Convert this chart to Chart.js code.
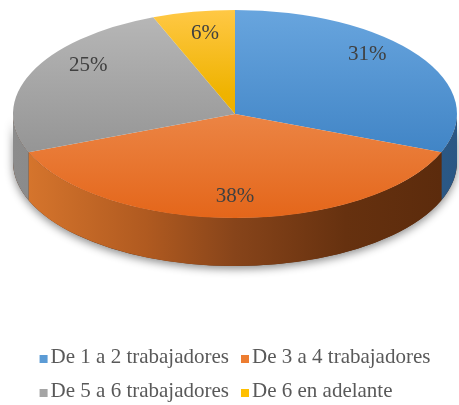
<!DOCTYPE html>
<html>
<head>
<meta charset="utf-8">
<script src="https://cdn.jsdelivr.net/npm/chart.js@4.4.1/dist/chart.umd.min.js"></script>
<style>
  html, body { margin: 0; padding: 0; background: #fff; }
</style>
</head>
<body>
<canvas id="myChart" width="459" height="405"></canvas>
<script>
const categorias = ['De 1 a 2 trabajadores', 'De 3 a 4 trabajadores', 'De 5 a 6 trabajadores', 'De 6 en adelante'];
const porcentajes = [31, 38, 25, 6];
const colores = ['#5b9bd5', '#ed7d31', '#a5a5a5', '#ffc000'];

// cara de arriba: degradado vertical (claro arriba, oscuro abajo)
const tonosCara = [
  [[0, '#68a5de'], [1, '#2f76bb']],
  [[0, '#f3a36f'], [1, '#e4661a']],
  [[0, '#b8b8b8'], [1, '#858585']],
  [[0, '#ffc845'], [0.4, '#efb300'], [1, '#e0a500']]
];
// pared lateral: degradado horizontal de izquierda a derecha
const tonosLado = [
  [[0, '#3f78b0'], [1, '#2a5784']],
  [[0, '#da782e'], [0.3, '#b05a20'], [0.5, '#87441a'], [0.75, '#66310f'], [1, '#5a2a0c']],
  [[0, '#8c8c8c'], [1, '#6e6e6e']],
  [[0, '#c99700'], [1, '#9c7500']]
];
const GROSOR = 48;

function degradadoCara(context) {
  const i = context.dataIndex;
  const area = context.chart.chartArea;
  if (!area) return colores[i];
  const g = context.chart.ctx.createLinearGradient(0, area.top, 0, area.bottom);
  tonosCara[i].forEach(([p, c]) => g.addColorStop(p, c));
  return g;
}

// el pastel se aplasta en elipse y se le pone canto
const pastel3d = {
  id: 'pastel3d',
  beforeDatasetsDraw(chart) {
    const ctx = chart.ctx;
    const arcos = chart.getDatasetMeta(0).data;
    if (!arcos.length) return;
    const {x, y, outerRadius: r} = arcos[0];
    const sx = (chart.chartArea.width / 2) / r;
    ctx.save();
    ctx.translate(x, y);
    ctx.scale(sx, 1);
    ctx.translate(-x, -y);

    // sombra del canto
    ctx.save();
    ctx.shadowColor = 'rgba(0,0,0,0.45)';
    ctx.shadowBlur = 8;
    ctx.shadowOffsetY = 3;
    ctx.beginPath();
    ctx.arc(x, y, r, 0, Math.PI);
    ctx.arc(x, y + GROSOR, r, Math.PI, 0, true);
    ctx.closePath();
    ctx.fillStyle = '#5a2a0c';
    ctx.fill();
    ctx.restore();

    arcos.forEach((arco, i) => {
      const a = Math.max(arco.startAngle, 0);
      const b = Math.min(arco.endAngle, Math.PI);
      if (a >= b) return;
      const g = ctx.createLinearGradient(x - r, 0, x + r, 0);
      tonosLado[i].forEach(([p, c]) => g.addColorStop(p, c));
      ctx.fillStyle = g;
      ctx.beginPath();
      ctx.arc(x, y, r, a, b);
      ctx.arc(x, y + GROSOR, r, b, a, true);
      ctx.closePath();
      ctx.fill();
    });
    // las caras las pinta Chart.js con esta misma transformación
  },
  afterDatasetsDraw(chart) {
    const ctx = chart.ctx;
    const arcos = chart.getDatasetMeta(0).data;
    if (!arcos.length) return;
    ctx.restore();

    const {x, y, outerRadius: r} = arcos[0];
    const sx = (chart.chartArea.width / 2) / r;
    ctx.save();
    ctx.font = '21px "Liberation Serif", "Times New Roman", serif';
    ctx.fillStyle = '#404040';
    ctx.textAlign = 'center';
    ctx.textBaseline = 'middle';
    arcos.forEach((arco, i) => {
      const medio = (arco.startAngle + arco.endAngle) / 2;
      const s = Math.sin(medio);
      const c = Math.cos(medio);
      const px = x + sx * r * 0.72 * c;
      // las del fondo suben un poco, la del frente baja
      const py = y + r * 0.72 * s + (s < 0 ? -16 * Math.abs(c) - 4 : 8);
      ctx.fillText(porcentajes[i] + '%', px, py);
    });
    ctx.restore();
  }
};

// leyenda en dos columnas bajo el pastel
const leyenda = {
  id: 'leyenda',
  afterDraw(chart) {
    const ctx = chart.ctx;
    ctx.save();
    ctx.font = '21px "Liberation Serif", "Times New Roman", serif';
    const caja = 8, hueco = 3, sep = 12, paso = 34;
    const anchoTexto = Math.max(...categorias.map(t => ctx.measureText(t).width));
    const col = caja + hueco + anchoTexto + sep;
    const total = 2 * col - sep;
    const x0 = (chart.chartArea.left + chart.chartArea.right) / 2 - total / 2;
    const y0 = chart.height - 42;
    ctx.textBaseline = 'alphabetic';
    ctx.textAlign = 'left';
    categorias.forEach((t, i) => {
      const bx = x0 + (i % 2) * col;
      const by = y0 + Math.floor(i / 2) * paso;
      ctx.fillStyle = colores[i];
      ctx.fillRect(bx, by - 8, caja, caja);
      ctx.fillStyle = '#595959';
      ctx.fillText(t, bx + caja + hueco, by);
    });
    ctx.restore();
  }
};

const data = {
  labels: categorias,
  datasets: [{
    data: porcentajes,
    backgroundColor: degradadoCara,
    borderWidth: 0,
    clip: false
  }]
};

const config = {
  type: 'pie',
  data: data,
  options: {
    responsive: false,
    animation: false,
    events: [],
    layout: { padding: { top: 10, bottom: 187, left: 13, right: 2 } },
    plugins: {
      legend: { display: false },
      tooltip: { enabled: false }
    }
  },
  plugins: [pastel3d, leyenda]
};

const myChart = new Chart(document.getElementById('myChart'), config);
</script>
</body>
</html>
